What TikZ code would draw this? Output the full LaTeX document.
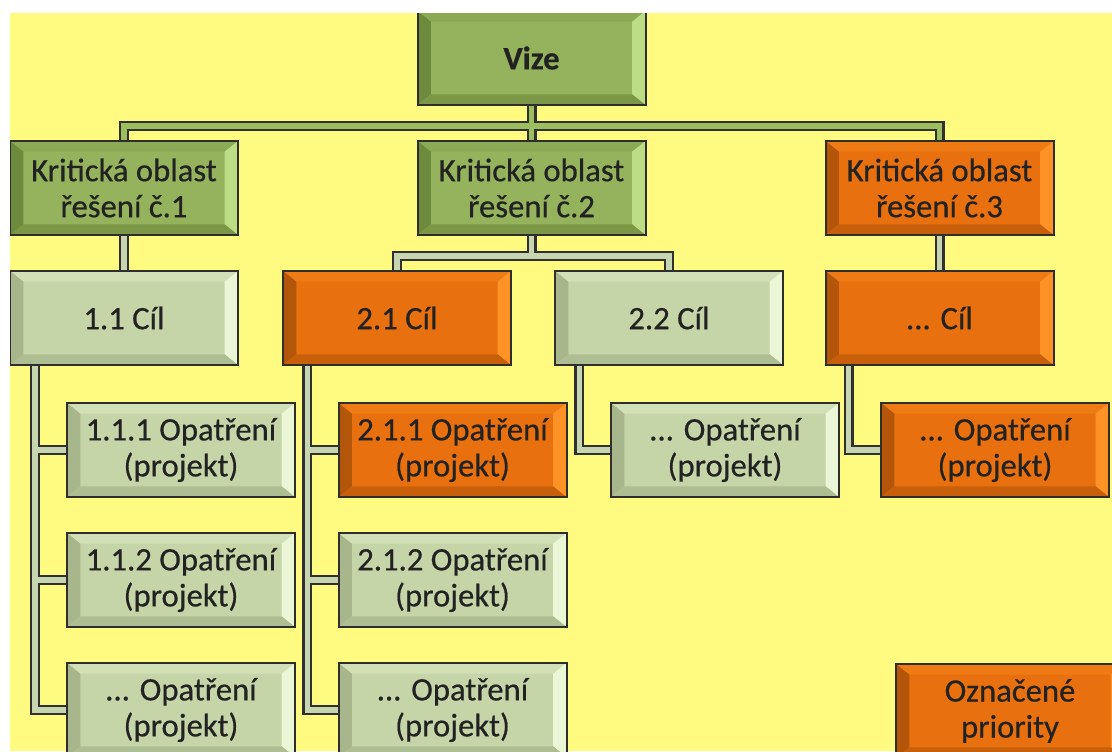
\documentclass[tikz,border=0pt]{standalone}
\usepackage{fontspec}
\setmainfont{Carlito}
\newfontfamily\boxfont[FakeBold=0.5]{Carlito}
\usepackage{tikz}
\usetikzlibrary{positioning}

\definecolor{paper}{HTML}{FFFB80}
\definecolor{boxline}{HTML}{2E2E2E}
\definecolor{txt}{HTML}{222222}
\definecolor{linedark}{HTML}{303030}
\definecolor{busgreen}{HTML}{9DBE5E}
\definecolor{buslight}{HTML}{C7D6B1}
\definecolor{gface}{HTML}{94B35C}
\definecolor{gtop}{HTML}{8CAA55}
\definecolor{gleft}{HTML}{6E8B3D}
\definecolor{gright}{HTML}{BCDD85}
\definecolor{gbottom}{HTML}{7C9846}
\definecolor{lface}{HTML}{C5D5A8}
\definecolor{ltop}{HTML}{D2E0B8}
\definecolor{lleft}{HTML}{A7B78B}
\definecolor{lright}{HTML}{EAF6D6}
\definecolor{lbottom}{HTML}{AEBE93}
\definecolor{oface}{HTML}{E8700E}
\definecolor{otop}{HTML}{EF7B14}
\definecolor{oleft}{HTML}{B4560A}
\definecolor{oright}{HTML}{FF9226}
\definecolor{obottom}{HTML}{C8600B}

\tikzset{
  bevel/.style n args={5}{fill=#1, path picture={
      \coordinate (pnw) at (path picture bounding box.north west);
      \coordinate (pne) at (path picture bounding box.north east);
      \coordinate (psw) at (path picture bounding box.south west);
      \coordinate (pse) at (path picture bounding box.south east);
      \fill[#2] (pnw) -- (pne) -- ([shift={(-10pt,-8pt)}]pne) -- ([shift={(10pt,-8pt)}]pnw) -- cycle;
      \fill[#3] (pnw) -- ([shift={(10pt,-8pt)}]pnw) -- ([shift={(10pt,8pt)}]psw) -- (psw) -- cycle;
      \fill[#4] (pne) -- (pse) -- ([shift={(-10pt,8pt)}]pse) -- ([shift={(-10pt,-8pt)}]pne) -- cycle;
      \fill[#5] (psw) -- ([shift={(10pt,8pt)}]psw) -- ([shift={(-10pt,8pt)}]pse) -- (pse) -- cycle;
  }}
}

\begin{document}
\begin{tikzpicture}[x=0.75pt,y=-0.75pt,line join=miter,
  box/.style={draw=boxline,line width=1.5pt,minimum width=171pt,minimum height=70.5pt,
    inner sep=0pt,align=center,text=txt,font=\boxfont\fontsize{24.5}{27}\selectfont},
  greenbox/.style={box,bevel={gface}{gtop}{gleft}{gright}{gbottom}},
  lightbox/.style={box,bevel={lface}{ltop}{lleft}{lright}{lbottom}},
  orangebox/.style={box,bevel={oface}{otop}{oleft}{oright}{obottom}}]
	\useasboundingbox (0,0) rectangle (1112,751);
	\fill[white] (0,0) rectangle (1112,751);
	\clip (10,13) rectangle (1112,751);
	\fill[paper] (10,13) rectangle (1112,751);

	\node [greenbox] at (531.5,58) (vize) {\bfseries Vize};
	\node [greenbox] at (124,188) (ko1) {Kritická oblast\\řešení č.1};
	\node [greenbox] at (531.5,188) (ko2) {Kritická oblast\\řešení č.2};
	\node [orangebox] at (939.5,188) (ko3) {Kritická oblast\\řešení č.3};

	\node [lightbox] at (124,318) (cil11) {1.1 Cíl};
	\node [orangebox] at (397,318) (cil21) {2.1 Cíl};
	\node [lightbox] at (669,318) (cil22) {2.2 Cíl};
	\node [orangebox] at (939.5,318) (cil3) {... Cíl};

	\node [lightbox] at (181,450) (op111) {1.1.1 Opatření\\(projekt)};
	\node [lightbox] at (181,580) (op112) {1.1.2 Opatření\\(projekt)};
	\node [lightbox] at (181,710) (op11x) {... Opatření\\(projekt)};
	\node [orangebox] at (452.5,450) (op211) {2.1.1 Opatření\\(projekt)};
	\node [lightbox] at (452.5,580) (op212) {2.1.2 Opatření\\(projekt)};
	\node [lightbox] at (452.5,710) (op21x) {... Opatření\\(projekt)};
	\node [lightbox] at (725,450) (op22x) {... Opatření\\(projekt)};
	\node [orangebox] at (995,450) (op3x) {... Opatření\\(projekt)};

	\node [orangebox] at (1010,711) (prio) {Označené\\priority};

	\foreach \w/\c in {7.5pt/linedark,4.1pt/busgreen}
	  \draw[line width=\w,draw=\c]
	  (vize.south) -- ++(0,20) -| (ko1.north)
	  (vize.south) -- (ko2.north)
	  (vize.south) -- ++(0,20) -| (ko3.north);

	\foreach \w/\c in {7.5pt/linedark,4.1pt/buslight}
	  \draw[line width=\w,draw=\c]
	  (ko1.south) -- (cil11.north)
	  (ko3.south) -- (cil3.north)
	  (ko2.south) -- ++(0,20) -| (cil21.north)
	  (ko2.south) -- ++(0,20) -| (cil22.north)
	  ([xshift=19.5pt]cil11.south west) |- (op111.west)
	  ([xshift=19.5pt]cil11.south west) |- (op112.west)
	  ([xshift=19.5pt]cil11.south west) |- (op11x.west)
	  ([xshift=19pt]cil21.south west) |- (op211.west)
	  ([xshift=19pt]cil21.south west) |- (op212.west)
	  ([xshift=19pt]cil21.south west) |- (op21x.west)
	  ([xshift=19pt]cil22.south west) |- (op22x.west)
	  ([xshift=18pt]cil3.south west) |- (op3x.west);
\end{tikzpicture}
\end{document}
